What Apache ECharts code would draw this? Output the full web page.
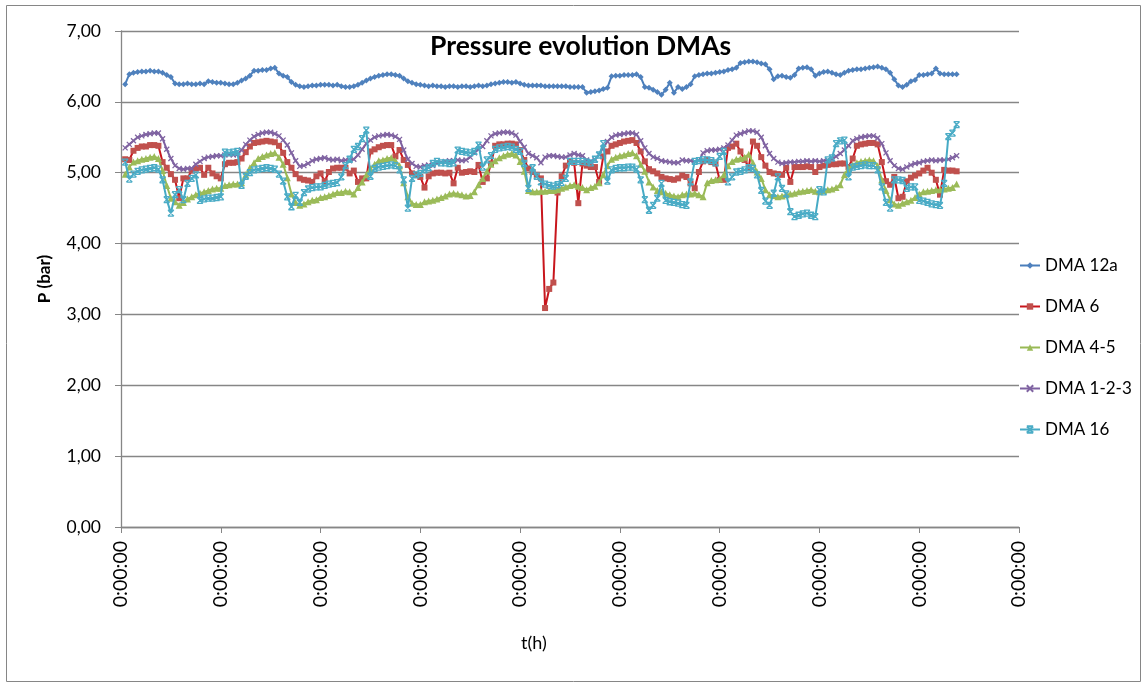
<!DOCTYPE html>
<html><head><meta charset="utf-8">
<script src="https://cdn.jsdelivr.net/npm/echarts@6/dist/echarts.min.js"></script>
<style>html,body{margin:0;padding:0;background:#fff}#c{width:1147px;height:686px}</style>
</head><body><div id="c"></div>
<script>
// Categories: hourly time steps (217 slots, 9 days), labels every 24
const tickLabel = "0:00:00";
const hours = [];
for (let i = 0; i <= 216; i++) { hours.push((i % 24) + ":00:00"); }
const seriesNames = ["DMA 12a", "DMA 6", "DMA 4-5", "DMA 1-2-3", "DMA 16"];

const dma12a = [6.25,6.39,6.41,6.42,6.43,6.43,6.44,6.43,6.43,6.41,6.38,6.35,6.26,6.25,6.25,6.26,6.25,6.25,6.26,6.25,6.29,6.28,6.27,6.27,6.26,6.25,6.25,6.27,6.30,6.33,6.37,6.44,6.44,6.45,6.45,6.47,6.48,6.40,6.37,6.35,
6.28,6.24,6.22,6.21,6.22,6.23,6.23,6.24,6.24,6.24,6.23,6.24,6.22,6.21,6.21,6.22,6.24,6.27,6.30,6.33,6.35,6.37,6.38,6.39,6.39,6.38,6.37,6.33,6.29,6.27,
6.25,6.24,6.23,6.22,6.23,6.22,6.22,6.21,6.22,6.22,6.21,6.22,6.22,6.21,6.22,6.23,6.22,6.23,6.25,6.26,6.27,6.28,6.28,6.27,6.28,6.26,6.24,6.23,6.23,6.23,
6.23,6.22,6.22,6.22,6.22,6.22,6.22,6.21,6.21,6.21,6.21,6.13,6.14,6.15,6.16,6.18,6.20,6.36,6.37,6.37,6.38,6.38,6.38,6.39,6.35,6.21,6.20,6.17,6.14,6.10,
6.17,6.27,6.13,6.21,6.18,6.21,6.25,6.36,6.38,6.39,6.40,6.40,6.41,6.42,6.43,6.45,6.46,6.48,6.55,6.56,6.57,6.57,6.56,6.54,6.53,6.46,6.32,6.36,6.37,6.35,
6.34,6.38,6.47,6.48,6.49,6.46,6.37,6.40,6.42,6.43,6.41,6.39,6.38,6.41,6.44,6.45,6.46,6.46,6.47,6.48,6.49,6.50,6.48,6.46,6.41,6.32,6.23,6.21,6.24,6.29,
6.31,6.38,6.38,6.39,6.40,6.47,6.40,6.39,6.39,6.39,6.39];

const dma6 = [5.19,5.18,5.31,5.35,5.37,5.37,5.39,5.39,5.38,5.15,5.07,4.98,4.90,4.64,4.92,4.92,5.03,5.06,5.07,4.97,5.07,4.99,4.95,4.92,5.12,5.14,5.14,5.15,5.20,5.29,5.37,5.42,5.43,5.44,5.45,5.44,5.43,5.38,5.28,5.15,
5.07,4.98,4.92,4.90,4.89,4.87,4.95,4.99,4.88,5.01,5.06,5.07,5.07,5.07,4.99,5.03,4.87,4.92,4.92,5.30,5.33,5.36,5.38,5.39,5.39,5.23,5.32,5.18,5.11,4.99,
4.97,4.94,4.79,4.95,4.99,5.00,5.00,4.99,5.00,4.85,5.07,5.00,5.01,5.02,5.01,5.11,4.87,4.92,5.13,5.38,5.40,5.40,5.41,5.41,5.40,5.32,5.18,5.06,5.01,4.97,
4.92,3.09,3.36,3.45,4.72,4.95,5.10,5.16,5.14,4.57,5.13,5.10,5.08,5.08,4.87,5.23,5.30,5.38,5.40,5.42,5.44,5.45,5.46,5.42,5.30,5.16,5.05,5.02,4.99,4.94,
4.92,4.91,4.90,4.92,4.96,4.94,4.85,4.78,5.01,5.16,5.18,5.15,5.13,4.90,4.90,5.35,5.37,5.41,5.30,5.18,5.08,5.44,5.38,5.22,5.10,5.01,4.99,4.98,4.97,5.07,
4.87,5.08,5.08,5.08,5.09,5.08,5.01,5.08,5.10,5.11,5.12,5.12,5.13,5.13,5.08,5.20,5.38,5.40,5.41,5.42,5.42,5.40,5.15,4.88,4.83,4.94,4.64,4.66,4.88,4.93,
4.96,4.99,5.03,5.07,5.00,4.90,4.69,5.04,5.03,5.03,5.02];

const dma45 = [4.98,5.08,5.15,5.17,5.19,5.20,5.22,5.23,5.20,5.03,4.82,4.64,4.59,4.54,4.58,4.63,4.66,4.69,4.71,4.73,4.75,4.77,4.78,4.78,4.82,4.83,4.84,4.84,4.86,4.97,5.07,5.14,5.20,5.23,5.25,5.27,5.28,5.22,5.12,4.93,
4.70,4.58,4.54,4.56,4.59,4.61,4.62,4.65,4.66,4.68,4.70,4.72,4.72,4.74,4.73,4.70,4.79,4.87,4.97,5.06,5.12,5.17,5.18,5.20,5.21,5.17,5.10,4.86,4.66,4.57,
4.55,4.55,4.59,4.60,4.61,4.63,4.65,4.67,4.70,4.71,4.70,4.69,4.67,4.68,4.73,4.83,4.92,5.02,5.12,5.17,5.21,5.24,5.26,5.27,5.25,5.16,5.02,4.75,4.73,4.73,
4.74,4.74,4.75,4.75,4.76,4.78,4.80,4.82,4.83,4.81,4.79,4.76,4.79,4.81,4.86,4.97,5.10,5.19,5.22,5.24,5.25,5.27,5.28,5.24,5.12,5.02,4.87,4.80,4.75,4.73,
4.71,4.69,4.67,4.66,4.69,4.70,4.70,4.71,4.69,4.66,4.86,4.89,4.90,4.91,4.97,5.10,5.16,5.19,5.20,5.22,5.26,5.14,5.01,4.92,4.76,4.69,4.68,4.66,4.67,4.69,
4.70,4.71,4.73,4.74,4.75,4.76,4.74,4.73,4.75,4.76,4.77,4.79,4.83,4.97,5.06,5.11,5.14,5.16,5.17,5.18,5.17,5.10,4.90,4.75,4.62,4.56,4.54,4.57,4.59,4.61,
4.65,4.70,4.73,4.74,4.75,4.76,4.76,4.77,4.78,4.79,4.84];

const dma123 = [5.35,5.40,5.45,5.50,5.52,5.54,5.55,5.56,5.56,5.48,5.33,5.20,5.10,5.06,5.05,5.06,5.06,5.12,5.16,5.20,5.22,5.23,5.24,5.24,5.25,5.26,5.25,5.26,5.32,5.40,5.46,5.51,5.54,5.56,5.57,5.57,5.55,5.52,5.46,5.39,
5.28,5.17,5.09,5.10,5.13,5.17,5.19,5.20,5.21,5.19,5.18,5.19,5.17,5.18,5.17,5.19,5.25,5.33,5.41,5.46,5.50,5.52,5.53,5.54,5.53,5.51,5.47,5.32,5.19,5.13,
5.09,5.08,5.10,5.11,5.10,5.13,5.15,5.16,5.17,5.17,5.18,5.17,5.18,5.22,5.28,5.33,5.37,5.45,5.52,5.55,5.56,5.57,5.57,5.56,5.53,5.44,5.36,5.27,5.24,5.21,
5.14,5.22,5.24,5.24,5.23,5.22,5.22,5.25,5.27,5.25,5.24,5.18,5.16,5.18,5.26,5.35,5.44,5.50,5.53,5.54,5.55,5.56,5.56,5.54,5.45,5.35,5.27,5.22,5.20,5.17,
5.16,5.15,5.14,5.14,5.18,5.17,5.17,5.16,5.17,5.28,5.31,5.32,5.32,5.33,5.35,5.39,5.46,5.53,5.55,5.57,5.59,5.59,5.57,5.50,5.38,5.27,5.20,5.15,5.13,5.14,
5.15,5.15,5.16,5.16,5.17,5.16,5.17,5.16,5.17,5.18,5.19,5.23,5.27,5.32,5.38,5.45,5.48,5.50,5.51,5.52,5.52,5.49,5.41,5.28,5.17,5.10,5.06,5.05,5.08,5.11,
5.13,5.14,5.16,5.17,5.18,5.17,5.18,5.18,5.19,5.21,5.24];

const dma16 = [5.15,4.91,4.98,5.02,5.04,5.05,5.06,5.07,5.05,4.90,4.62,4.43,4.69,4.76,4.62,4.85,4.92,4.97,4.61,4.63,4.64,4.64,4.65,4.66,5.29,5.28,5.29,5.30,4.82,4.95,5.00,5.04,5.05,5.06,5.07,5.06,5.05,4.98,4.88,4.66,
4.52,4.68,4.58,4.72,4.77,4.79,4.80,4.80,4.82,4.84,4.85,4.86,4.94,5.10,5.19,5.33,5.37,5.48,5.60,4.95,5.06,5.08,5.09,5.10,5.11,5.10,5.04,4.90,4.50,4.92,
4.97,4.99,5.04,5.07,5.13,5.16,5.14,5.14,5.13,5.14,5.32,5.30,5.29,5.28,5.30,5.39,5.08,5.18,5.24,5.33,5.35,5.36,5.37,5.36,5.33,5.30,5.13,4.78,5.07,4.95,
4.87,4.84,4.82,4.81,4.83,4.86,4.92,5.16,5.16,5.16,5.16,5.15,5.14,5.19,5.25,5.41,4.88,5.04,5.06,5.07,5.07,5.08,5.08,5.05,4.90,4.62,4.47,4.54,4.64,4.85,
4.61,4.59,4.58,4.57,4.55,4.54,4.87,5.16,5.17,5.18,5.18,5.17,5.14,5.23,5.30,4.87,4.94,5.01,5.02,5.04,5.07,5.06,4.97,4.75,4.60,4.54,4.71,4.94,4.78,4.70,
4.45,4.38,4.40,4.42,4.43,4.40,4.38,4.76,4.73,5.18,5.21,5.41,5.45,5.46,4.94,5.08,5.09,5.10,5.11,5.10,5.10,5.04,4.80,4.58,4.50,4.90,4.90,4.89,4.78,4.80,
4.80,4.61,4.60,4.58,4.56,4.55,4.54,4.85,5.51,5.56,5.68];

const values = [dma12a, dma6, dma45, dma123, dma16];
const lineColors = ["#4A7EBB", "#C8161D", "#98B954", "#7D60A0", "#46AAC5"];
const markColors = ["#4F81BD", "#C0504D", "#9BBB59", "#8064A2", "#4BACC6"];
const symbols = ["diamond", "rect", "triangle", "path://M0,0L10,10M10,0L0,10", "path://M0,0L10,10M10,0L0,10M0,0L10,0M0,10L10,10"];
const symbolSizes = [6, 6, 7, 5, 6];

const FONT = "Lato, 'Open Sans', sans-serif";
const chart = echarts.init(document.getElementById('c'), null, {renderer: 'canvas'});

const series = values.map((arr, k) => ({
  name: seriesNames[k],
  type: 'line',
  data: [null].concat(arr),
  symbol: symbols[k],
  symbolSize: symbolSizes[k],
  showAllSymbol: true,
  lineStyle: {color: lineColors[k], width: 2},
  itemStyle: {color: markColors[k], borderColor: markColors[k], borderWidth: k >= 3 ? 1.3 : 0},
  emphasis: {disabled: true},
  animation: false,
  z: 2 + k
}));

chart.setOption({
  animation: false,
  backgroundColor: '#ffffff',
  title: {
    text: 'Pressure evolution DMAs',
    left: 425, top: 28,
    textStyle: {fontFamily: FONT, fontSize: 26.5, fontWeight: 'bold', color: '#000'}
  },
  grid: {left: 121, right: 128, top: 31, bottom: 159, containLabel: false},
  legend: {
    orient: 'vertical',
    left: 1014, top: 252,
    itemWidth: 20, itemHeight: 8,
    itemGap: 24,
    textStyle: {fontFamily: FONT, fontSize: 17, color: '#000'},
    data: seriesNames
  },
  xAxis: {
    type: 'category',
    data: hours,
    boundaryGap: false,
    axisLine: {lineStyle: {color: '#868686', width: 1.3}},
    axisTick: {interval: 23, length: 6, lineStyle: {color: '#868686'}},
    axisLabel: {
      interval: 23, rotate: 90, margin: 14,
      fontFamily: FONT, fontSize: 19.5, color: '#000',
      formatter: () => tickLabel
    },
    splitLine: {show: false}
  },
  yAxis: {
    type: 'value',
    min: 0, max: 7, interval: 1,
    name: 'P (bar)',
    nameLocation: 'middle',
    nameGap: 68,
    nameRotate: 90,
    nameTextStyle: {fontFamily: FONT, fontSize: 17, fontWeight: 'bold', color: '#000'},
    axisLine: {show: true, lineStyle: {color: '#868686', width: 1.3}},
    axisTick: {show: true, length: 6, lineStyle: {color: '#868686'}},
    axisLabel: {
      margin: 20, fontFamily: FONT, fontSize: 17.5, color: '#000',
      formatter: v => v.toFixed(2).replace('.', ',')
    },
    splitLine: {show: true, lineStyle: {color: '#868686', width: 1.3}}
  },
  graphic: [{
    type: 'rect', silent: true,
    shape: {x: 6.5, y: 5.5, width: 1134, height: 676},
    style: {fill: 'none', stroke: '#868686', lineWidth: 1}
  }, {
    type: 'text', silent: true,
    left: 521, top: 634,
    style: {text: 't(h)', fontFamily: FONT, fontSize: 18, fill: '#000'}
  }],
  series: series
});
</script></body></html>
